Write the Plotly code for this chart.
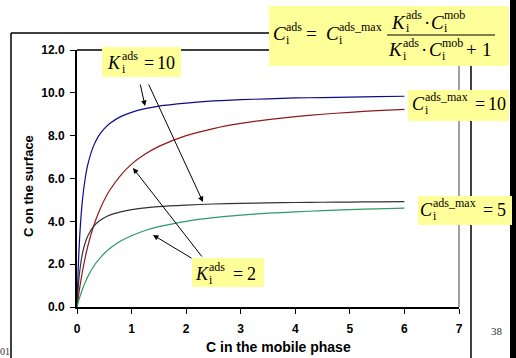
import plotly.graph_objects as go

# ---- data ----
c_mob = [0, 0.02, 0.05, 0.1, 0.15, 0.2, 0.3, 0.4, 0.5, 0.6, 0.8, 1.0, 1.25, 1.5,
         2.0, 2.5, 3.0, 3.5, 4.0, 4.5, 5.0, 5.5, 6.0]
c_ads_max10_k10 = [0, 1.67, 3.33, 5.00, 6.00, 6.67, 7.50, 8.00, 8.33, 8.57, 8.89, 9.09, 9.26, 9.38,
                   9.52, 9.62, 9.68, 9.72, 9.76, 9.78, 9.80, 9.82, 9.84]
c_ads_max10_k2 = [0, 0.38, 0.91, 1.67, 2.31, 2.86, 3.75, 4.44, 5.00, 5.45, 6.15, 6.67, 7.14, 7.50,
                  8.00, 8.33, 8.57, 8.75, 8.89, 9.00, 9.09, 9.17, 9.23]
c_ads_max5_k10 = [0, 0.83, 1.67, 2.50, 3.00, 3.33, 3.75, 4.00, 4.17, 4.29, 4.44, 4.55, 4.63, 4.69,
                  4.76, 4.81, 4.84, 4.86, 4.88, 4.89, 4.90, 4.91, 4.92]
c_ads_max5_k2 = [0, 0.19, 0.45, 0.83, 1.15, 1.43, 1.88, 2.22, 2.50, 2.73, 3.08, 3.33, 3.57, 3.75,
                 4.00, 4.17, 4.29, 4.38, 4.44, 4.50, 4.55, 4.58, 4.62]

x_ticks = [0, 1, 2, 3, 4, 5, 6, 7]
y_ticks = [0, 2, 4, 6, 8, 10, 12]
y_tick_labels = ["0.0", "2.0", "4.0", "6.0", "8.0", "10.0", "12.0"]

series = [
    (c_ads_max10_k10, "#0c0c8c"),
    (c_ads_max10_k2, "#8f1a1a"),
    (c_ads_max5_k10, "#333333"),
    (c_ads_max5_k2, "#2e9a66"),
]

# ---- geometry helpers (pixel -> paper) ----
W, H = 516, 358
L, R, T, B = 77, 459, 50, 307


def px(x):
    return (x - L) / (R - L)


def py(y):
    return (B - y) / (B - T)


fig = go.Figure()
for ys, col in series:
    fig.add_trace(go.Scatter(x=c_mob, y=ys, mode="lines",
                             line=dict(color=col, width=1.2, shape="spline", smoothing=0.6),
                             showlegend=False, hoverinfo="skip"))

shapes = []


def line(x0, y0, x1, y1, color="black", width=1):
    shapes.append(dict(type="line", xref="paper", yref="paper",
                       x0=px(x0), y0=py(y0), x1=px(x1), y1=py(y1),
                       line=dict(color=color, width=width)))


def rect(x0, y0, x1, y1, fill):
    shapes.append(dict(type="rect", xref="paper", yref="paper",
                       x0=px(x0), y0=py(y0), x1=px(x1), y1=py(y1),
                       fillcolor=fill, line=dict(width=0)))


# outer slide frame
line(11, 33, 471, 33, width=1.5)
line(11, 33, 11, 360, width=1.5)
line(471, 33, 471, 360, width=1.5)
# right black band
rect(510, 0, 517, 360, "black")
# plot area top & right borders
line(L, T, R, T, width=1.5)
line(R, T, R, B, color="#808080", width=1.5)
# yellow boxes
YEL = "#ffff99"
rect(269, 6, 509, 66, YEL)
rect(102, 47, 181, 77, YEL)
rect(408, 90, 509, 121, YEL)
rect(418, 196, 512, 225, YEL)
rect(192, 258, 264, 287, YEL)
# fraction bar
line(387, 35, 495, 35, width=1)

ann = []
SERIF = "Liberation Serif"


def txt(s, x, y, size=18, xanchor="left", family=SERIF, color="black", angle=0):
    ann.append(dict(text=s, x=px(x), y=py(y), xref="paper", yref="paper",
                    xanchor=xanchor, yanchor="middle", showarrow=False, textangle=angle,
                    borderpad=0, borderwidth=0,
                    font=dict(family=family, size=size, color=color)))


def sym(letter, xs, yc, sub="i", sup="ads", size=18, ssize=12):
    # italic letter ending at xs, with stacked sub/superscript starting at xs
    txt("<i>%s</i>" % letter, xs - 0.5, yc, size=size, xanchor="right")
    txt(sup, xs, yc - 6.9, size=ssize)
    txt(sub, xs, yc + 6.3, size=ssize)


# formula in top box
FS = 19
sym("C", 286, 33.8, size=FS)
txt("=", 306, 33.8, size=FS)
sym("C", 339, 33.8, sup="ads_max", size=FS)
sym("K", 406, 22.1, size=FS)
txt("·", 427, 22.1, size=FS, xanchor="center")
sym("C", 444, 22.1, sup="mob", size=FS)
sym("K", 403, 49.8, size=FS)
txt("·", 424, 49.8, size=FS, xanchor="center")
sym("C", 442, 49.8, sup="mob", size=FS)
txt("+", 466, 49.8, size=FS)
txt("1", 482, 49.8, size=FS)

# K = 10
sym("K", 121.5, 62.8)
txt("=", 143.5, 62.8)
txt("10", 157, 62.8)
# C max = 10
sym("C", 425, 103.8, sup="ads_max")
txt("=", 474.5, 103.8)
txt("10", 488, 103.8)
# C max = 5
sym("C", 433, 209.8, sup="ads_max")
txt("=", 482.5, 209.8)
txt("5", 497, 209.8)
# K = 2
sym("K", 209, 273.5)
txt("=", 232.5, 273.5)
txt("2", 247, 273.5)


def arrow(tx, ty, hx, hy):
    ann.append(dict(text="", x=px(hx), y=py(hy), xref="paper", yref="paper",
                    ax=tx - hx, ay=ty - hy, axref="pixel", ayref="pixel",
                    showarrow=True, arrowhead=2, arrowsize=1.1, arrowwidth=1,
                    arrowcolor="black", standoff=0, startstandoff=0))


arrow(140, 83, 145, 106)
arrow(148, 83, 203, 202)
arrow(203, 258, 133, 168)
arrow(193, 259, 153, 235)

# axis titles
txt("<b>C in the mobile phase</b>", 278, 347, size=14, xanchor="center", family="Liberation Sans")
txt("<b>C on the surface</b>", 28, 186, size=13, xanchor="center", family="Liberation Sans", angle=-90)
# slide remnants
txt("01", 0, 351, size=10, xanchor="left", color="#333333")
txt("38", 497, 331, size=11, xanchor="center", color="#333333")

fig.update_layout(
    width=W, height=H, autosize=False,
    margin=dict(l=L, r=W - R, t=T, b=H - B, pad=0),
    paper_bgcolor="white", plot_bgcolor="white",
    shapes=shapes, annotations=ann,
    xaxis=dict(range=[0, 7], tickvals=x_ticks, ticktext=["<b>%d</b>" % v for v in x_ticks],
               ticks="outside", ticklen=5, tickwidth=1, tickcolor="black", ticklabelstandoff=5,
               showline=True, linecolor="black", linewidth=2, showgrid=False, zeroline=False,
               tickfont=dict(family="Liberation Sans", size=12, color="black")),
    yaxis=dict(range=[0, 12], tickvals=y_ticks, ticktext=["<b>%s</b>" % s for s in y_tick_labels],
               ticks="outside", ticklen=5, tickwidth=1, tickcolor="black", ticklabelstandoff=3,
               showline=True, linecolor="black", linewidth=2, showgrid=False, zeroline=False,
               tickfont=dict(family="Liberation Sans", size=12, color="black")),
)

fig.write_html("out.html")
